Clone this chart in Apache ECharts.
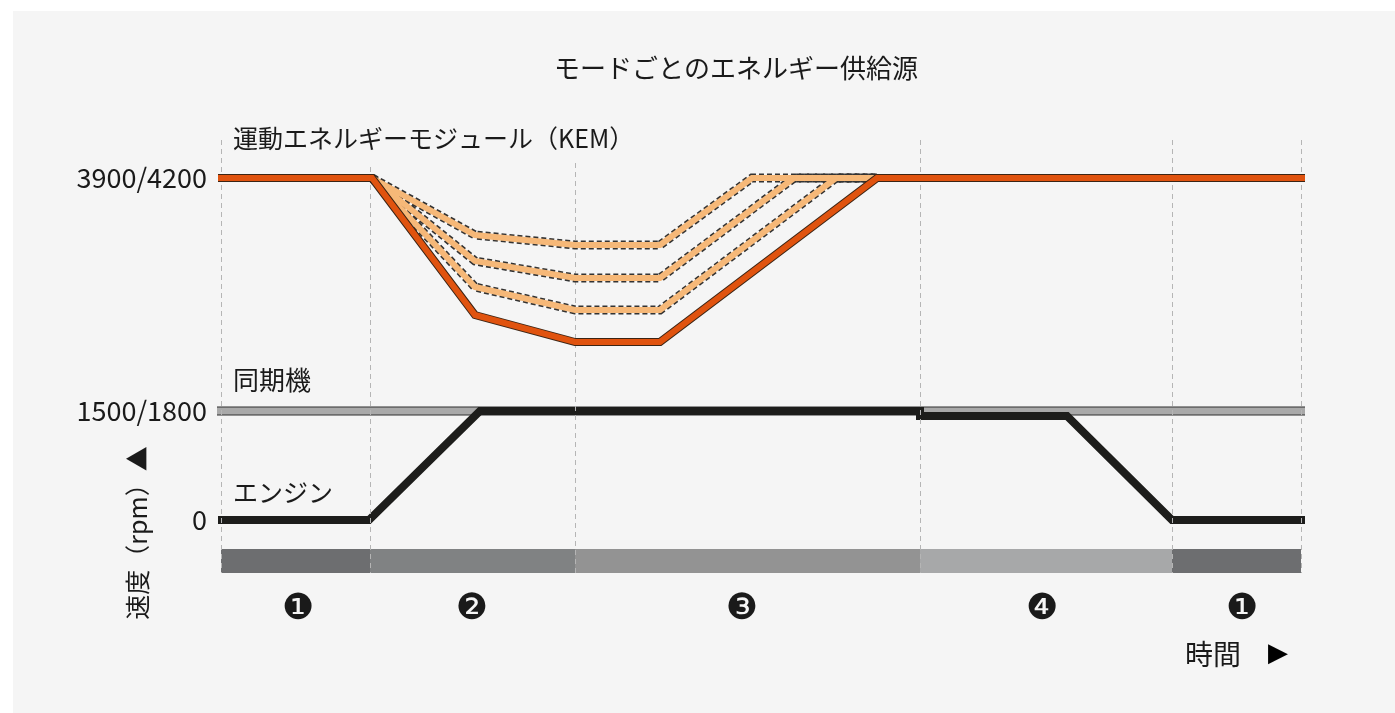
<!DOCTYPE html>
<html>
<head>
<meta charset="utf-8">
<script src="https://cdn.jsdelivr.net/npm/echarts@6/dist/echarts.min.js"></script>
<style>
html,body{margin:0;padding:0;background:#ffffff;width:1395px;height:713px;overflow:hidden;}
#panel{position:absolute;left:13px;top:11px;width:1382px;height:702px;background:#f5f5f5;}
#chart{position:absolute;left:0;top:0;width:1395px;height:713px;}
</style>
</head>
<body>
<div id="panel"></div>
<div id="chart"></div>
<script>
// ---------- data (schematic time / speed units) ----------
const timeMin = -3, timeMax = 1084;
const speedMin = -53, speedMax = 380;

const phaseBounds   = [0, 149, 354, 699, 951, 1080];
const phaseLineTops = [380, 353, 357, 380, 380, 380];
const phaseNames    = ['❶', '❷', '❸', '❹', '❶'];
const phaseNameAt   = [77, 251, 521, 821, 1021];
const bandRange     = [-53, -29];

const speedTicks      = [0, 109, 342];
const speedTickLabels = ['0', '1500/1800', '3900/4200'];

const kemMain = [[-3, 342], [151, 342], [254, 205], [354, 178], [439, 178], [656, 342], [1084, 342]];
const kemAlt1 = [[151, 342], [254, 285], [354, 275], [439, 275], [531, 342], [656, 342]];
const kemAlt2 = [[151, 342], [254, 259], [354, 242], [439, 242], [573, 342], [656, 342]];
const kemAlt3 = [[151, 342], [254, 233], [354, 210], [439, 210], [615, 342], [656, 342]];

const syncSpeed   = [[-4, 109], [1084, 109]];
const engineSpeed = [[-3, 0], [148, 0], [259, 109], [699, 109], [699, 104], [846, 104], [951, 0], [1084, 0]];

// ---------- styles ----------
const FONT = '"Noto Sans CJK JP", "Noto Sans", sans-serif';
const TXT = '#1a1a1a';
const bandColors = ['#6d6e70', '#808283', '#939393', '#a7a8a9', '#6d6e70'];

const chart = echarts.init(document.getElementById('chart'), null, {renderer: 'canvas'});

function lineSeries(name, data, color, width, z, dashed) {
  return {
    name: name, type: 'line', data: data, symbol: 'none', z: z, silent: true,
    clip: false,
    lineStyle: {color: color, width: width, type: dashed ? [5, 3] : 'solid', join: 'miter', cap: 'butt'}
  };
}

const bandAreas = phaseNames.map((n, i) => [
  {xAxis: phaseBounds[i], yAxis: bandRange[0], itemStyle: {color: bandColors[i]}},
  {xAxis: phaseBounds[i + 1], yAxis: bandRange[1]}
]);
const vLines = phaseBounds.map((b, i) => [
  {coord: [b, phaseLineTops[i]]},
  {coord: [b, speedMin]}
]);

const series = [
  {
    name: 'phases', type: 'line', data: [], symbol: 'none', z: 1, silent: true,
    markArea: {silent: true, data: bandAreas, label: {show: false}},
    markLine: {
      silent: true, symbol: ['none', 'none'], label: {show: false},
      lineStyle: {color: '#b5b5b5', width: 1, type: [5, 4]},
      data: vLines
    }
  },
  lineSeries('同期機-outline', syncSpeed, '#2e2e2e', 9, 2),
  lineSeries('同期機', syncSpeed, '#a9a9a9', 7, 3),
  lineSeries('エンジン', engineSpeed, '#1d1d1b', 8, 4)
];
[kemAlt1, kemAlt2, kemAlt3].forEach((d, i) => {
  series.push(lineSeries('KEM-alt' + i + '-outline', d, '#333333', 9, 5, true));
  series.push(lineSeries('KEM-alt' + i, d, '#f6b878', 6, 6));
});
series.push(lineSeries('KEM-outline', kemMain, '#3b2414', 8, 7));
series.push(lineSeries('KEM', kemMain, '#e0530f', 6, 8));

const option = {
  animation: false,
  backgroundColor: 'transparent',
  textStyle: {fontFamily: FONT},
  title: {
    text: 'モードごとのエネルギー供給源',
    left: 549, top: 50,
    textStyle: {fontFamily: FONT, fontSize: 26, fontWeight: 'normal', color: TXT}
  },
  grid: {left: 218, right: 90, top: 140, bottom: 140},
  xAxis: {
    type: 'value', min: timeMin, max: timeMax,
    axisLine: {show: false}, axisTick: {show: false}, splitLine: {show: false},
    axisLabel: {
      customValues: phaseNameAt,
      formatter: v => phaseNames[phaseNameAt.indexOf(v)] || '',
      fontFamily: '"DejaVu Sans", ' + FONT, fontSize: 36, color: TXT, margin: 19
    }
  },
  yAxis: {
    type: 'value', min: speedMin, max: speedMax,
    axisLine: {show: false}, axisTick: {show: false}, splitLine: {show: false},
    axisLabel: {
      customValues: speedTicks,
      formatter: v => speedTickLabels[speedTicks.indexOf(v)] || '',
      fontFamily: FONT, fontSize: 27, color: TXT, margin: 11
    }
  },
  graphic: [
    {type: 'text', x: 233, y: 138, silent: true,
     style: {text: '運動エネルギーモジュール（KEM）', font: '25px ' + FONT, fill: TXT, verticalAlign: 'middle'}},
    {type: 'text', x: 233, y: 380, silent: true,
     style: {text: '同期機', font: '26px ' + FONT, fill: TXT, verticalAlign: 'middle'}},
    {type: 'text', x: 233, y: 492, silent: true,
     style: {text: 'エンジン', font: '25px ' + FONT, fill: TXT, verticalAlign: 'middle'}},
    {type: 'text', x: 137, y: 533, rotation: Math.PI / 2, silent: true,
     style: {text: '速度（rpm）▲', font: '25px ' + FONT, fill: TXT, align: 'center', verticalAlign: 'middle'}},
    {type: 'text', x: 1185, y: 654, silent: true,
     style: {text: '時間', font: '28px ' + FONT, fill: TXT, verticalAlign: 'middle'}},
    {type: 'text', x: 1268, y: 654, silent: true,
     style: {text: '▶', font: '26px "DejaVu Sans", ' + FONT, fill: '#000', verticalAlign: 'middle'}}
  ],
  series: series
};
chart.setOption(option);
</script>
</body>
</html>
